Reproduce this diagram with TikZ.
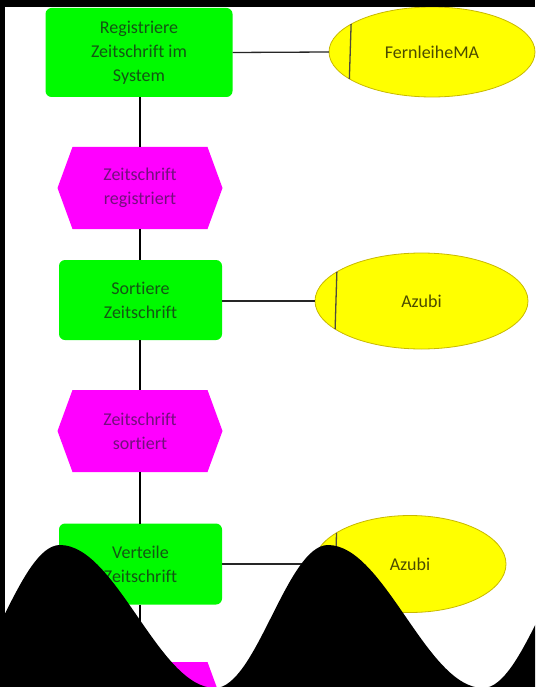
\documentclass[tikz,border=0pt]{standalone}
\usepackage{fontspec}
\setmainfont{Carlito}[Ligatures=NoCommon]
\usetikzlibrary{shapes.geometric,calc}
\definecolor{epcgreen}{RGB}{0,250,0}
\definecolor{epcmag}{RGB}{255,0,255}
\definecolor{epcyellow}{RGB}{255,255,0}
\definecolor{txtgreen}{RGB}{20,85,20}
\definecolor{txtmag}{RGB}{115,15,125}
\definecolor{txtyellow}{RGB}{75,75,0}
\definecolor{ellborder}{RGB}{200,185,0}
\tikzset{
  funcbox/.style={rectangle, rounded corners=6pt, fill=epcgreen, draw=none,
    inner sep=0pt, outer sep=0pt, align=center, text=txtgreen,
    font=\fontsize{18}{24}\selectfont},
  eventbox/.style={rectangle, draw=none, inner sep=0pt, outer sep=0pt,
    minimum width=165pt, minimum height=82pt, align=center, text=txtmag,
    font=\fontsize{18}{24}\selectfont,
    path picture={\fill[epcmag] (path picture bounding box.west)
      -- ([xshift=15pt]path picture bounding box.north west)
      -- ([xshift=-15pt]path picture bounding box.north east)
      -- (path picture bounding box.east)
      -- ([xshift=-15pt]path picture bounding box.south east)
      -- ([xshift=15pt]path picture bounding box.south west) -- cycle;}},
  orgunit/.style={ellipse, fill=epcyellow, draw=ellborder, line width=0.8pt,
    inner sep=0pt, outer sep=0pt, text=txtyellow,
    font=\fontsize{18}{24}\selectfont},
  conn/.style={draw=black, line width=1.4pt},
  hconn/.style={draw=black!85, line width=1.3pt},
  chord/.style={draw=black!80!yellow, line width=1.3pt}
}
\begin{document}
\begin{tikzpicture}[x=1pt,y=-1pt]
\useasboundingbox (0,0) rectangle (535,687);
\fill[white] (0,0) rectangle (535,687);

% function boxes
\node[funcbox, minimum width=187pt, minimum height=89pt] (b1) at (139,52.5)
  {Registriere\\Zeitschrift im\\System};
\node[funcbox, minimum width=163pt, minimum height=80pt] (b2) at (140.5,300)
  {Sortiere\\Zeitschrift};
\node[funcbox, minimum width=163pt, minimum height=81pt] (b3) at (140.5,564)
  {Verteile\\Zeitschrift};

% events
\node[eventbox] (e1) at (140,188) {Zeitschrift\\registriert};
\node[eventbox] (e2) at (140,431) {Zeitschrift\\sortiert};
\node[eventbox] (e3) at (140,703) {};

% organisational units
\node[orgunit, minimum width=206pt, minimum height=90pt] (o1) at (432,52) {FernleiheMA};
\node[orgunit, minimum width=213pt, minimum height=96pt] (o2) at (421.5,301) {Azubi};
\node[orgunit, minimum width=192pt, minimum height=97pt] (o3) at (410,564) {Azubi};

\draw[chord] (o1.161.1) -- (o1.198.9);
\draw[chord] (o2.161.5) -- (o2.198.5);
\draw[chord] (o3.157.3) -- (o3.202.7);

% control flow
\draw[conn] (b1.south -| e1.north) -- (e1.north);
\draw[conn] (e1.south) -- (e1.south |- b2.north);
\draw[conn] (b2.south -| e2.north) -- (e2.north);
\draw[conn] (e2.south) -- (e2.south |- b3.north);
\draw[conn] (b3.south -| e3.north) -- (e3.north);

% assignments
\draw[hconn] (b1.east) -- (o1.west);
\draw[hconn] (b2.east |- o2.west) -- (o2.west);
\draw[hconn] (b3.east |- o3.west) -- (o3.west);

% black occluding frame and waves
\begin{scope}
\clip (0,0) rectangle (535,687);
\fill[black] (-53,688) .. controls (-11.9,688) and (18.9,545) .. (60,545)
  .. controls (116.3,545) and (158.7,688) .. (215,688)
  .. controls (256.1,688) and (286.9,545) .. (328,545)
  .. controls (384.3,545) and (426.7,688) .. (483,688)
  .. controls (524.1,688) and (554.9,545) .. (596,545)
  -- (596,700) -- (-53,700) -- cycle;
\fill[black] (0,0) rectangle (5,687);
\fill[black] (0,0) rectangle (535,7);
\end{scope}
\end{tikzpicture}
\end{document}
